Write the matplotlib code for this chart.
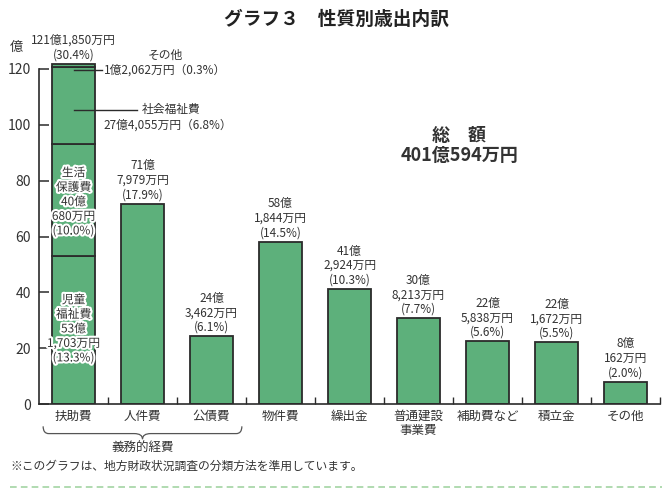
import numpy as np
import matplotlib
matplotlib.use("Agg")
import matplotlib.pyplot as plt
import matplotlib.patheffects as pe
from matplotlib.path import Path
from matplotlib.patches import PathPatch

plt.rcParams["font.family"] = ["Noto Sans CJK JP", "DejaVu Sans"]

# DATA (単位: 億円)
kategori = ["扶助費", "人件費", "公債費", "物件費", "繰出金",
            "普通建設\n事業費", "補助費など", "積立金", "その他"]
nilai = [121.85, 71.7979, 24.3462, 58.1844, 41.2924, 30.8213, 22.5838, 22.1672, 8.0162]
label_atas = ["121億1,850万円\n(30.4%)", "71億\n7,979万円\n(17.9%)", "24億\n3,462万円\n(6.1%)",
              "58億\n1,844万円\n(14.5%)", "41億\n2,924万円\n(10.3%)", "30億\n8,213万円\n(7.7%)",
              "22億\n5,838万円\n(5.6%)", "22億\n1,672万円\n(5.5%)", "8億\n162万円\n(2.0%)"]

# 扶助費の内訳 (下から)
fujo_nama = ["児童福祉費", "生活保護費", "社会福祉費", "その他"]
fujo_nilai = [53.1703, 40.0680, 27.4055, 1.2062]
fujo_label = ["児童\n福祉費\n53億\n1,703万円\n(13.3%)",
              "生活\n保護費\n40億\n680万円\n(10.0%)",
              "社会福祉費\n27億4,055万円（6.8%）",
              "その他\n1億2,062万円（0.3%）"]

judul = "グラフ３　性質別歳出内訳"
total_teks = "総　額\n401億594万円"
catatan = "※このグラフは、地方財政状況調査の分類方法を準用しています。"

HIJAU = "#5db07b"
TEPI = "#2b2b2b"
TEKS = "#333333"

W, H = 668, 492
fig = plt.figure(figsize=(W / 100, H / 100), dpi=100)
px_per = 335 / 120
ax = fig.add_axes([39 / W, 1 - 404 / H, 621 / W, 122 * px_per / H])

x = np.arange(len(kategori))
lebar = 0.63

# bar biasa (kecuali 扶助費)
ax.bar(x[1:], nilai[1:], width=lebar, color=HIJAU, edgecolor=TEPI, linewidth=1.3, zorder=2)

# bar bertumpuk 扶助費
bawah = 0
for v in fujo_nilai:
    ax.bar(x[0], v, bottom=bawah, width=lebar, color=HIJAU, edgecolor=TEPI, linewidth=1.3, zorder=2)
    bawah += v

# label di atas bar
for xi, v, t in zip(x, nilai, label_atas):
    ax.text(xi, v + 0.8, t, ha="center", va="bottom", fontsize=8.5, color=TEKS, linespacing=1.15)

# label di dalam bar (dengan outline putih)
kum = np.cumsum([0] + fujo_nilai)
stroke = [pe.withStroke(linewidth=3, foreground="white")]
ax.text(0, 26.9, fujo_label[0], ha="center", va="center", fontsize=8.5, color=TEKS,
        linespacing=1.15, path_effects=stroke, zorder=3)
ax.text(0, 72.4, fujo_label[1], ha="center", va="center", fontsize=8.5, color=TEKS,
        linespacing=1.15, path_effects=stroke, zorder=3)

# garis penunjuk
y_sosial = (kum[2] + kum[3]) / 2 - 1.5
ax.plot([0, 0.92], [y_sosial, y_sosial], color=TEPI, lw=1, zorder=4)
ax.text(1.41, y_sosial, "社会福祉費", ha="center", va="center", fontsize=8.5, color=TEKS)
ax.text(1.37, y_sosial - 5.7, "27億4,055万円（6.8%）", ha="center", va="center", fontsize=8.5, color=TEKS)

y_lain = 119.6
ax.plot([0, 0.42], [y_lain, y_lain], color=TEPI, lw=1, zorder=4)
ax.text(1.33, 125.0, "その他", ha="center", va="center", fontsize=8.5, color=TEKS, clip_on=False)
ax.text(1.32, y_lain, "1億2,062万円（0.3%）", ha="center", va="center", fontsize=8.5, color=TEKS)

# total
ax.text(5.59, 92.6, total_teks, ha="center", va="center", fontsize=13, fontweight="bold",
        color=TEKS, linespacing=1.0)

# sumbu
ax.set_xlim(-0.5, len(kategori) - 0.5)
ax.set_ylim(0, 122)
ax.spines["top"].set_visible(False)
ax.spines["right"].set_visible(False)
ax.spines["left"].set_bounds(0, 120)
for s in ["left", "bottom"]:
    ax.spines[s].set_linewidth(1.2)
    ax.spines[s].set_color(TEPI)

ax.set_yticks(range(0, 121, 20))
ax.tick_params(axis="y", direction="in", length=7.2, width=1.1, color=TEPI,
               labelsize=10, labelcolor=TEKS, pad=6)
ax.set_xticks(x)
ax.set_xticklabels(kategori, fontsize=9, color=TEKS, linespacing=1.1)
ax.tick_params(axis="x", which="major", length=0, pad=4)
ax.set_xticks(np.arange(0.5, len(kategori), 1), minor=True)
ax.tick_params(axis="x", which="minor", direction="in", length=5, width=1, color=TEPI)

fig.text(16 / W, 1 - 47 / H, "億", ha="center", va="center", fontsize=9.5, color=TEKS)

# kurung kurawal 義務的経費
ya, yb, yc = -8.0, -10.6, -12.6
kiri, kanan, tengah = -0.44, 2.44, 1.0
verts = [(kiri, ya), (kiri, yb), (kiri + 0.08, yb),
         (tengah - 0.12, yb), (tengah, yb), (tengah, yc),
         (tengah, yb), (tengah + 0.12, yb),
         (kanan - 0.08, yb), (kanan, yb), (kanan, ya)]
codes = [Path.MOVETO, Path.CURVE3, Path.CURVE3,
         Path.LINETO, Path.CURVE3, Path.CURVE3,
         Path.CURVE3, Path.CURVE3,
         Path.LINETO, Path.CURVE3, Path.CURVE3]
ax.add_patch(PathPatch(Path(verts, codes), fill=False, edgecolor="#555555", lw=0.9, clip_on=False))
ax.text(tengah, -16.0, "義務的経費", ha="center", va="center", fontsize=9, color=TEKS, clip_on=False)

# judul & catatan
fig.text(337 / W, 1 - 19 / H, judul, ha="center", va="center", fontsize=13.5,
         fontweight="bold", color="#222222")
fig.text(10 / W, 1 - 466 / H, catatan, ha="left", va="center", fontsize=8.5, color=TEKS)
fig.add_artist(plt.Line2D([10 / W, 662 / W], [1 - 487 / H, 1 - 487 / H], color="#a3d4a3",
                          lw=1.2, linestyle=(0, (4, 2.5))))

fig.savefig("out.png", dpi=100)
